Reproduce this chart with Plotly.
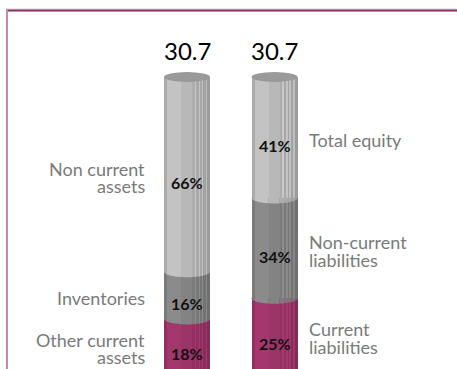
import numpy as np
import plotly.graph_objects as go

# ---- data -------------------------------------------------------------
totals = [30.7, 30.7]

# segments listed bottom to top, shares in percent of the column total
asset_labels = ["Other current\nassets", "Inventories", "Non current\nassets"]
asset_shares = [18, 16, 66]

liab_labels = ["Current\nliabilities", "Non-current\nliabilities", "Total equity"]
liab_shares = [25, 34, 41]

segment_colors = ["#9b3467", "#838383", "#b8b8b8"]
top_color = "#9a9a9a"

# ---- geometry / style ---------------------------------------------------
PX_X = 87.5            # pixels per x unit (column spacing)
PX_Y = 2.95            # pixels per percent
BAR_PX = 46
BAR_W = BAR_PX / PX_X
RX = BAR_W / 2
RY_TOP = 5.0 / PX_Y
RY_ARC = 5.5 / PX_Y
LABEL_SIZE = 18
LEADING = 17.5

# vertical shading strips of the cylinder (pixel widths and brightness gain)
stripe_px = [3, 14, 11, 3, 1, 3, 1, 2, 1, 3, 1, 3]
stripe_gain = [0.93, 1.06, 1.0, 0.94, 1.08, 0.92, 1.06, 0.9, 1.05, 0.88, 1.03, 0.85]


def shade(hex_color, g):
    h = hex_color.lstrip("#")
    rgb = [int(h[k:k + 2], 16) for k in (0, 2, 4)]
    rgb = [max(0, min(255, int(round(c * g)))) for c in rgb]
    return "rgb({},{},{})".format(*rgb)


stripe_w = [p / BAR_PX * BAR_W for p in stripe_px]
stripe_left = np.concatenate([[0], np.cumsum(stripe_w)[:-1]])

fig = go.Figure()
shapes = []
annotations = []

columns = [(asset_labels, asset_shares), (liab_labels, liab_shares)]

for ci, (labels, shares) in enumerate(columns):
    x_left = ci - RX
    xs = [x_left + l + w / 2 for l, w in zip(stripe_left, stripe_w)]
    bases = np.concatenate([[0], np.cumsum(shares)[:-1]])
    top = float(np.sum(shares))

    # stacked cylinder body, one striped bar per segment
    for sj, (share, base) in enumerate(zip(shares, bases)):
        col = segment_colors[sj]
        fig.add_trace(go.Bar(
            x=xs, y=[share] * len(xs), base=[base] * len(xs),
            width=stripe_w,
            marker=dict(color=[shade(col, g) for g in stripe_gain], line=dict(width=0)),
            hoverinfo="skip", showlegend=False,
        ))

    # front arcs of each upper segment hanging over the segment below
    for sj in range(1, len(shares)):
        level = float(bases[sj])
        col = segment_colors[sj]
        for l, w, g in zip(stripe_left, stripe_w, stripe_gain):
            xa, xb = x_left + l, x_left + l + w
            xx = np.linspace(xa, xb, 8)
            dx = np.clip((xx - ci) / RX, -1, 1)
            yy = level - RY_ARC * np.sqrt(1 - dx ** 2)
            pts = [(xa, level + 0.05)] + list(zip(xx, yy)) + [(xb, level + 0.05)]
            path = "M " + " L ".join(f"{px:.5f},{py:.4f}" for px, py in pts) + " Z"
            shapes.append(dict(type="path", xref="x", yref="y", path=path,
                               fillcolor=shade(col, g), line=dict(width=0)))

    # top face
    shapes.append(dict(type="circle", xref="x", yref="y",
                       x0=ci - RX, x1=ci + RX, y0=top - RY_TOP, y1=top + RY_TOP,
                       fillcolor=top_color, line=dict(width=0)))

    # total above the cylinder
    annotations.append(dict(x=ci, y=top, xref="x", yref="y", text=f"{totals[ci]:.1f}",
                            showarrow=False, yanchor="middle", yshift=27,
                            font=dict(family="Lato", size=24, color="#000000")))

    for sj, (share, base, lab) in enumerate(zip(shares, bases, labels)):
        mid = float(base + share / 2)
        # share inside the segment
        annotations.append(dict(x=ci, y=mid, xref="x", yref="y", text=f"<b>{share}%</b>",
                                showarrow=False, yanchor="middle", yshift=-8,
                                font=dict(family="Lato", size=16, color="#111111")))
        # side caption, one line per annotation for tight leading
        lines = lab.split("\n")
        n = len(lines)
        for k, line in enumerate(lines):
            off = ((n - 1) / 2 - k) * LEADING - 3
            if ci == 0:
                annotations.append(dict(x=ci - RX, y=mid, xref="x", yref="y", text=line,
                                        showarrow=False, xanchor="right", yanchor="middle",
                                        xshift=-17, yshift=off,
                                        font=dict(family="Lato", size=LABEL_SIZE, color="#7a7a7a")))
            else:
                annotations.append(dict(x=ci + RX, y=mid, xref="x", yref="y", text=line,
                                        showarrow=False, xanchor="left", yanchor="middle",
                                        xshift=9, yshift=off,
                                        font=dict(family="Lato", size=LABEL_SIZE, color="#7a7a7a")))

# frame lines (top and left edge)
W, H = 457, 369
shapes.append(dict(type="line", xref="paper", yref="paper",
                   x0=6 / W, x1=1, y0=1 - 9 / H, y1=1 - 9 / H,
                   line=dict(color="#d0d0d0", width=1)))
shapes.append(dict(type="line", xref="paper", yref="paper",
                   x0=6 / W, x1=1, y0=1 - 10.5 / H, y1=1 - 10.5 / H,
                   line=dict(color="#8c2d5f", width=2)))
shapes.append(dict(type="line", xref="paper", yref="paper",
                   x0=7 / W, x1=7 / W, y0=0, y1=1 - 10 / H,
                   line=dict(color="#c48aa8", width=2)))

y_lo = 3 / PX_Y
fig.update_layout(
    width=W, height=H,
    margin=dict(l=0, r=0, t=0, b=0),
    paper_bgcolor="white", plot_bgcolor="white",
    barmode="overlay", bargap=0, showlegend=False,
    xaxis=dict(range=[-187 / PX_X, (W - 187) / PX_X], visible=False, fixedrange=True),
    yaxis=dict(range=[y_lo, y_lo + H / PX_Y], visible=False, fixedrange=True),
    shapes=shapes, annotations=annotations,
)

fig.write_html("out.html")
